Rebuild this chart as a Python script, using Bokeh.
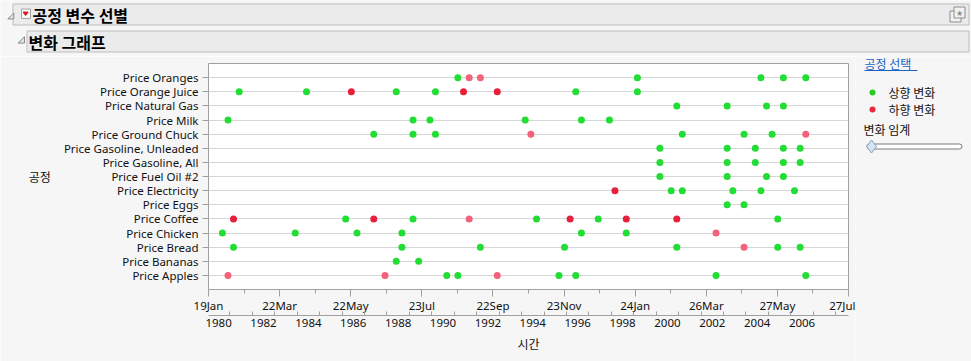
import pandas as pd
from bokeh.plotting import figure
from bokeh.layouts import column, row
from bokeh.core.properties import value
from bokeh.models import (FactorRange, Range1d, FixedTicker, DatetimeTickFormatter, DatetimeAxis,
                          ColumnDataSource)
from bokeh.embed import file_html
from bokeh.resources import INLINE

# ---------------- data ----------------
categories = ["Price Apples", "Price Bananas", "Price Bread", "Price Chicken", "Price Coffee",
              "Price Eggs", "Price Electricity", "Price Fuel Oil #2", "Price Gasoline, All",
              "Price Gasoline, Unleaded", "Price Ground Chuck", "Price Milk", "Price Natural Gas",
              "Price Orange Juice", "Price Oranges"]

# (month, change) ; change: "up" = 상향 변화, "down" = 하향 변화 (strong), "down_weak" = 하향 변화 (weak)
price_oranges = [("1991-03", "up"), ("1991-09", "down_weak"), ("1992-03", "down_weak"), ("1999-03", "up"),
                 ("2004-09", "up"), ("2005-09", "up"), ("2006-09", "up")]
price_orange_juice = [("1981-06", "up"), ("1984-06", "up"), ("1986-06", "down"), ("1988-06", "up"),
                      ("1990-03", "up"), ("1991-06", "down"), ("1992-12", "down"), ("1996-06", "up"),
                      ("1999-03", "up")]
price_natural_gas = [("2000-12", "up"), ("2003-03", "up"), ("2004-12", "up"), ("2005-09", "up")]
price_milk = [("1980-12", "up"), ("1989-03", "up"), ("1989-12", "up"), ("1994-03", "up"),
              ("1996-09", "up"), ("1997-12", "up")]
price_ground_chuck = [("1987-06", "up"), ("1989-03", "up"), ("1990-03", "up"), ("1994-06", "down_weak"),
                      ("2001-03", "up"), ("2003-12", "up"), ("2005-03", "up"), ("2006-09", "down_weak")]
price_gasoline_unleaded = [("2000-03", "up"), ("2003-03", "up"), ("2004-06", "up"), ("2005-09", "up"),
                           ("2006-06", "up")]
price_gasoline_all = [("2000-03", "up"), ("2003-03", "up"), ("2004-06", "up"), ("2005-09", "up"),
                      ("2006-06", "up")]
price_fuel_oil = [("2000-03", "up"), ("2003-03", "up"), ("2004-12", "up"), ("2005-09", "up")]
price_electricity = [("1998-03", "down"), ("2000-09", "up"), ("2001-03", "up"), ("2003-06", "up"),
                     ("2004-09", "up"), ("2006-03", "up")]
price_eggs = [("2003-03", "up"), ("2003-12", "up")]
price_coffee = [("1981-03", "down"), ("1986-03", "up"), ("1987-06", "down"), ("1989-03", "up"),
                ("1991-09", "down_weak"), ("1994-09", "up"), ("1996-03", "down"), ("1997-06", "up"),
                ("1998-09", "down"), ("2000-12", "down"), ("2005-06", "up")]
price_chicken = [("1980-09", "up"), ("1983-12", "up"), ("1986-09", "up"), ("1988-09", "up"),
                 ("1996-09", "up"), ("1998-09", "up"), ("2002-09", "down_weak")]
price_bread = [("1981-03", "up"), ("1988-09", "up"), ("1992-03", "up"), ("1995-12", "up"),
               ("2000-12", "up"), ("2003-12", "down_weak"), ("2005-06", "up"), ("2006-06", "up")]
price_bananas = [("1988-06", "up"), ("1989-06", "up")]
price_apples = [("1980-12", "down_weak"), ("1987-12", "down_weak"), ("1990-09", "up"), ("1991-03", "up"),
                ("1992-12", "down_weak"), ("1995-09", "up"), ("1996-06", "up"), ("2002-09", "up"),
                ("2006-09", "up")]

series = {
    "Price Oranges": price_oranges, "Price Orange Juice": price_orange_juice,
    "Price Natural Gas": price_natural_gas, "Price Milk": price_milk,
    "Price Ground Chuck": price_ground_chuck, "Price Gasoline, Unleaded": price_gasoline_unleaded,
    "Price Gasoline, All": price_gasoline_all, "Price Fuel Oil #2": price_fuel_oil,
    "Price Electricity": price_electricity, "Price Eggs": price_eggs, "Price Coffee": price_coffee,
    "Price Chicken": price_chicken, "Price Bread": price_bread, "Price Bananas": price_bananas,
    "Price Apples": price_apples,
}

date_ticks = ["1980-01-19", "1983-03-22", "1986-05-22", "1989-07-23", "1992-09-22",
              "1995-11-23", "1999-01-24", "2002-03-26", "2005-05-27", "2008-07-27"]
x_start, x_end = "1980-01-19", "2008-07-27"
first_year, last_year = 1980, 2007

title_main = "공정 변수 선별"
title_sub = "변화 그래프"
y_title = "공정"
x_title = "시간"
legend_title = "공정 선택"
legend_labels = ["상향 변화", "하향 변화"]
slider_title = "변화 임계"

# ---------------- styles ----------------
COLORS = {"up": "#22dd33", "down": "#e8203c", "down_weak": "#f2627a"}
LEG_COLORS = ["#25cc25", "#e8283c"]
LATIN = "Noto Sans"
KR = "Noto Sans CJK KR"
TXT = "#111111"
BG = "#f6f6f6"
TOTAL_W, TOTAL_H = 971, 361
HEAD_H = 56
SIDE_W = 116


def ms(s):
    return pd.Timestamp(s).value / 1e6


def blank(w, h, x0, x1, y0, y1):
    f = figure(width=w, height=h, output_backend="svg", toolbar_location=None,
               x_range=Range1d(x0, x1), y_range=Range1d(y1, y0),
               x_axis_location=None, y_axis_location=None, min_border=0)
    f.grid.visible = False
    f.outline_line_color = None
    f.background_fill_color = BG
    f.border_fill_color = BG
    if "frame_align" in f.properties():
        f.frame_align = False
    return f


def txt(f, x, y, s, size="12px", color=TXT, style="normal", font=KR, align="left"):
    f.text(x=[x], y=[y], text=[s], text_font=value(font), text_font_size=size,
           text_color=color, text_font_style=style, text_baseline="middle", text_align=align)


# ---------------- header (outline boxes) ----------------
hd = blank(TOTAL_W, HEAD_H, 0, TOTAL_W, 0, HEAD_H)
hd.quad(left=[12.5, 26.5], right=[968.5, 968.5], top=[3.5, 30.5], bottom=[24.5, 51.5],
        fill_color="#ebebeb", line_color="#bdbdbd", line_width=1)
hd.patches(xs=[[13.3, 13.3, 7.3], [24, 24, 17.6]], ys=[[12.6, 18.4, 18.4], [36.2, 42.6, 42.6]],
           fill_color="#e2e2e2", line_color="#8a8a8a", line_width=1)
hd.quad(left=[21], right=[30], top=[8.5], bottom=[18], fill_color="#f6f6f6", line_color="#a6a6a6")
hd.patches(xs=[[22.6, 27.6, 25.1]], ys=[[11.6, 11.6, 15]], fill_color="#e01020", line_color="#e01020")
hd.quad(left=[949.5, 953.5], right=[960.5, 964.5], top=[10.5, 6.5], bottom=[21.5, 17.5],
        fill_color="#f2f2f2", line_color="#8c8c8c")
txt(hd, 959, 12, "★", size="8px", color="#8c8c8c", font=LATIN, align="center")
txt(hd, 32, 14, title_main, size="16px", style="bold", color="#000000")
txt(hd, 28, 41, title_sub, size="16px", style="bold", color="#000000")

# ---------------- main chart ----------------
MAIN_W = TOTAL_W - SIDE_W
MAIN_H = TOTAL_H - HEAD_H

xs, ys, cs = [], [], []
for cat in categories:
    for d, ch in series[cat]:
        xs.append(pd.Timestamp(d + "-01"))
        ys.append(cat)
        cs.append(COLORS[ch])
src = ColumnDataSource(dict(x=xs, y=ys, color=cs))

p = figure(width=MAIN_W, height=MAIN_H, output_backend="svg", toolbar_location=None,
           x_axis_type="datetime",
           x_range=Range1d(ms(x_start), ms(x_end)),
           y_range=FactorRange(factors=categories, range_padding=0.5, range_padding_units="absolute"),
           min_border_left=208, min_border_right=MAIN_W - 848, min_border_top=63 - HEAD_H,
           min_border_bottom=MAIN_H - (289 - HEAD_H))
p.background_fill_color = "white"
p.border_fill_color = BG
p.outline_line_color = "#a0a0a0"
p.xgrid.visible = False
p.ygrid.grid_line_color = "#d6d6d6"
if "frame_align" in p.properties():
    p.frame_align = False

p.scatter("x", "y", source=src, size=7, fill_color="color", line_color=None)

# y axis
ya = p.yaxis[0]
ya.axis_line_color = None
ya.major_tick_out = 6
ya.major_tick_in = 0
ya.major_tick_line_color = "#a0a0a0"
ya.major_label_standoff = 4
ya.major_label_text_font = LATIN
ya.major_label_text_font_size = "11.5px"
ya.major_label_text_color = TXT
ya.axis_label = y_title
ya.axis_label_text_font = KR
ya.axis_label_text_font_size = "12px"
ya.axis_label_text_font_style = "normal"
ya.axis_label_text_color = TXT
ya.axis_label_standoff = 10
if "axis_label_orientation" in ya.properties():
    ya.axis_label_orientation = "horizontal"

# date axis (upper row)
tick_ms = [ms(t) for t in date_ticks]
minor_ms = [(a + b) / 2 for a, b in zip(tick_ms[:-1], tick_ms[1:])]
xa = p.xaxis[0]
xa.ticker = FixedTicker(ticks=tick_ms, minor_ticks=minor_ms)
fmt = "%d%b"
xa.formatter = DatetimeTickFormatter(microseconds=fmt, milliseconds=fmt, seconds=fmt, minsec=fmt,
                                     minutes=fmt, hourmin=fmt, hours=fmt, days=fmt, months=fmt, years=fmt)
xa.axis_line_color = None
xa.major_tick_out = 7
xa.major_tick_in = 0
xa.minor_tick_out = 4
xa.minor_tick_in = 0
xa.major_tick_line_color = "#a0a0a0"
xa.minor_tick_line_color = "#a0a0a0"
xa.major_label_standoff = 1
xa.major_label_text_font = LATIN
xa.major_label_text_font_size = "11.5px"
xa.major_label_text_color = TXT

# year axis (lower row, bracket style)
year_mid = [ms(f"{y}-07-02") for y in range(first_year, last_year + 1, 2)]
year_bounds = [ms(f"{y}-01-01") for y in range(first_year, last_year + 2)]
yax = DatetimeAxis(ticker=FixedTicker(ticks=year_mid, minor_ticks=year_bounds))
yf = "%Y"
yax.formatter = DatetimeTickFormatter(microseconds=yf, milliseconds=yf, seconds=yf, minsec=yf,
                                      minutes=yf, hourmin=yf, hours=yf, days=yf, months=yf, years=yf)
yax.axis_line_color = "#a0a0a0"
yax.major_tick_in = 0
yax.major_tick_out = 0
yax.minor_tick_in = 4
yax.minor_tick_out = 0
yax.minor_tick_line_color = "#a0a0a0"
yax.major_label_standoff = 3
yax.major_label_text_font = LATIN
yax.major_label_text_font_size = "11.5px"
yax.major_label_text_color = TXT
yax.axis_label = x_title
yax.axis_label_text_font = KR
yax.axis_label_text_font_size = "12px"
yax.axis_label_text_font_style = "normal"
yax.axis_label_text_color = TXT
yax.axis_label_standoff = 5
p.add_layout(yax, "below")

# ---------------- side panel (legend + threshold slider) ----------------
sd = blank(SIDE_W, MAIN_H, MAIN_W, TOTAL_W, HEAD_H, TOTAL_H)
txt(sd, 864, 63, legend_title, color="#1a62c4")
sd.quad(left=[864], right=[917], top=[69.5], bottom=[70.5], fill_color="#1a62c4", line_color=None)
sd.scatter(x=[872, 872], y=[92, 109], size=6, fill_color=LEG_COLORS, line_color=None)
txt(sd, 888, 92, legend_labels[0])
txt(sd, 888, 109, legend_labels[1])
txt(sd, 863, 129, slider_title)
sd.quad(left=[866.5], right=[961.5], top=[143.5], bottom=[148.5], fill_color="white",
        line_color="#7a7a7a", border_radius=3)
sd.patches(xs=[[871, 876, 871, 866]], ys=[[139.5, 146, 152.5, 146]], fill_color="#d6e4f2",
           line_color="#7f9cc0")

layout = column(hd, row(p, sd))
open("out.html", "w").write(file_html(layout, INLINE))
